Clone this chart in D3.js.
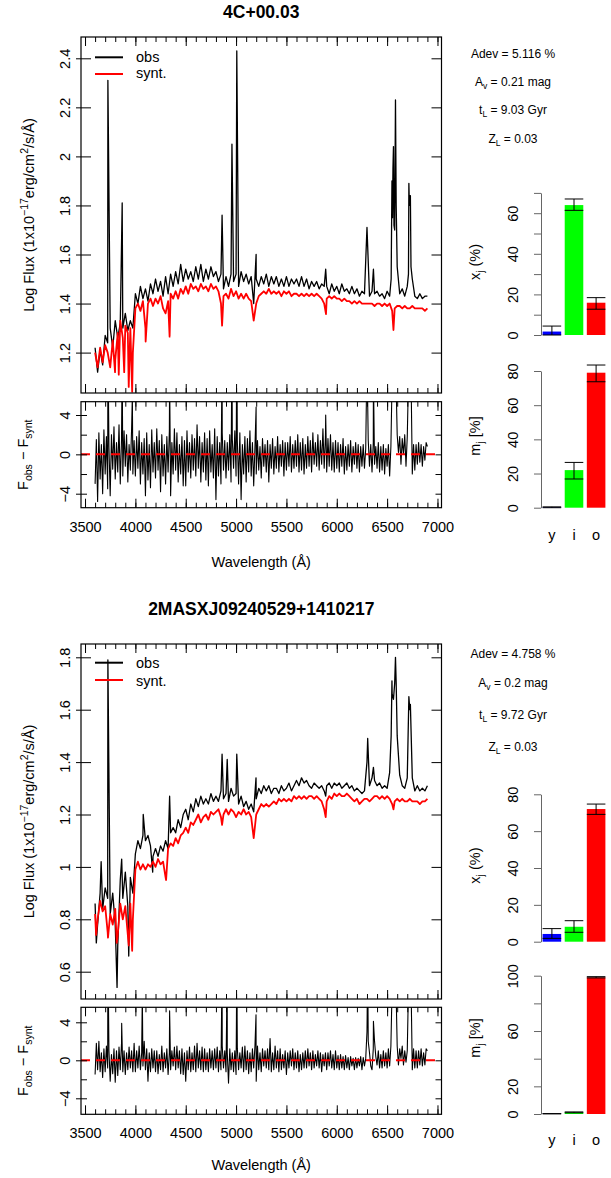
<!DOCTYPE html>
<html>
<head>
<meta charset="utf-8">
<script src="https://cdn.jsdelivr.net/npm/d3@7"></script>
<style>
  body { margin: 0; background: #fff; }
  svg { display: block; }
  text { font-family: "Liberation Sans", Arial, Helvetica, sans-serif; }
</style>
</head>
<body>
<svg id="chart" width="611" height="1178"></svg>
<script>
// ---- data ----
const waves = d3.range(3600, 6901, 25);      // sampling of the spectra (Å)
const resWaves = d3.range(3600, 6901, 12.5); // sampling of the residuals (Å)

const galaxyNames = ["4C+00.03", "2MASXJ09240529+1410217"];
const statAdev = ["5.116", "4.758"];
const statAv = ["0.21", "0.2"];
const statTL = ["9.03", "9.72"];
const statZL = ["0.03", "0.03"];

// top galaxy, log flux
const obsTop = [
  1.22, 1.12, 1.21, 1.15,  1.27, 1.24, 1.30, 1.22,  1.33, 1.26, 1.32, 1.30,
  1.36, 1.29, 1.33, 1.30,  1.44, 1.40, 1.47, 1.42,  1.46, 1.41, 1.48, 1.44,
  1.50, 1.45, 1.49, 1.43,  1.51, 1.44, 1.52, 1.47,  1.53, 1.48, 1.56, 1.49,
  1.54, 1.50, 1.53, 1.49,  1.55, 1.50, 1.56, 1.49,  1.54, 1.50, 1.55, 1.51,
  1.53, 1.49, 1.52, 1.46,  1.51, 1.47, 1.52, 1.49,  1.52, 1.47, 1.53, 1.49,
  1.52, 1.48, 1.51, 1.40,  1.50, 1.47, 1.51, 1.48,  1.52, 1.47, 1.51, 1.48,
  1.51, 1.47, 1.50, 1.47,  1.51, 1.47, 1.50, 1.48,  1.50, 1.47, 1.51, 1.47,
  1.50, 1.46, 1.49, 1.47,  1.49, 1.46, 1.48, 1.47,  1.47, 1.44, 1.48, 1.45,
  1.47, 1.44, 1.48, 1.45,  1.46, 1.44, 1.47, 1.44,  1.46, 1.43, 1.45, 1.44,
  1.44, 1.43, 1.45, 1.44,  1.45, 1.43, 1.44, 1.42,  1.45, 1.43, 1.80, 1.70,
  1.55, 1.44, 1.46, 1.43,  1.47, 1.82, 1.50, 1.43,  1.42, 1.44, 1.42, 1.43,
  1.43
];
const obsTopLines = [
  [3727, 2.31], [3869, 1.81], [4861, 1.76], [4959, 2.05], [5007, 2.43], [5199, 1.60],
  [5890, 1.54], [6300, 1.71], [6364, 1.54], [6540, 1.50], [6548, 1.90], [6553, 1.75],
  [6558, 1.95], [6563, 2.04], [6568, 1.72], [6583, 2.23], [6590, 1.80], [6712, 1.52],
  [6716, 1.89], [6721, 1.80], [6727, 1.84], [6731, 1.84], [6737, 1.55]
];
const synTop = [
  1.20, 1.14, 1.22, 1.16,  1.23, 1.20, 1.14, 1.25,  1.17, 1.28, 1.33, 1.26,
  1.31, 1.28, 1.30, 1.20,  1.38, 1.40, 1.37, 1.41,  1.30, 1.40, 1.42, 1.39,
  1.42, 1.40, 1.43, 1.38,  1.36, 1.41, 1.44, 1.42,  1.45, 1.42, 1.46, 1.44,
  1.47, 1.44, 1.48, 1.46,  1.47, 1.45, 1.48, 1.46,  1.47, 1.45, 1.48, 1.46,
  1.47, 1.45, 1.40, 1.43,  1.44, 1.42, 1.46, 1.43,  1.45, 1.42, 1.44, 1.42,
  1.44, 1.42, 1.41, 1.36,  1.40, 1.43, 1.44, 1.45,  1.44, 1.46, 1.44, 1.45,
  1.44, 1.45, 1.43, 1.45,  1.44, 1.45, 1.43, 1.44,  1.44, 1.43, 1.44, 1.43,
  1.44, 1.43, 1.44, 1.43,  1.44, 1.43, 1.42, 1.40,  1.42, 1.43, 1.42, 1.43,
  1.42, 1.42, 1.41, 1.42,  1.41, 1.41, 1.40, 1.41,  1.40, 1.41, 1.40, 1.40,
  1.40, 1.40, 1.40, 1.39,  1.40, 1.40, 1.39, 1.40,  1.39, 1.40, 1.37, 1.38,
  1.39, 1.39, 1.38, 1.39,  1.38, 1.38, 1.39, 1.38,  1.38, 1.38, 1.38, 1.37,
  1.38
];
const synTopDips = [
  [3798, 1.12], [3835, 1.11], [3889, 1.12], [3934, 1.06], [3968, 1.04], [4102, 1.245],
  [4340, 1.265], [4861, 1.31], [5175, 1.33], [5893, 1.357], [6563, 1.292]
];
const resTop = [
  -3.0, 1.5, -4.8, 2.2, -2.5, 1.0, -4.0, 2.5,
  -2.0, 1.8, -3.5, 0.8, -4.2, 2.0, -1.5, 2.8,
  -2.5, 1.2, -1.8, 3.0, -3.0, 1.5, -2.2, 2.4,
  -1.2, 2.0, -2.8, 1.0, -1.6, 2.6, -2.0, 1.4,
  -2.2, 1.8, -1.4, 2.4, -3.0, 1.2, -2.0, 1.6,
  -4.2, 2.2, -2.6, 1.0, -3.4, 2.5, -1.8, 1.2,
  -2.4, 2.6, -1.6, 1.4, -3.8, 2.0, -2.2, 1.0,
  -3.0, 1.8, -1.8, 2.4, -4.2, 1.2, -2.0, 2.6,
  -1.6, 2.2, -2.8, 1.0, -2.0, 1.8, -3.2, 1.4,
  -3.2, 2.4, -1.8, 1.2, -2.4, 2.0, -1.6, 1.6,
  -2.2, 3.0, -1.4, 1.8, -2.8, 1.2, -1.8, 2.2,
  -2.6, 1.6, -3.2, 2.4, -1.8, 1.0, -2.4, 2.6,
  -4.6, 1.8, -2.2, 1.2, -3.0, 2.2, -1.6, 1.4,
  -2.4, 1.2, -1.6, 2.0, -2.8, 1.6, -1.4, 2.4,
  -2.2, 1.4, -3.0, 2.2, -4.6, 1.0, -2.0, 1.8,
  -2.8, 1.6, -1.8, 2.4, -2.2, 1.2, -3.2, 0.8,
  -2.0, 1.4, -1.6, 0.8, -2.4, 1.6, -1.2, 1.0,
  -1.8, 1.4, -2.8, 1.0, -1.4, 1.6, -2.0, 0.8,
  -1.4, 1.8, -1.8, 1.0, -1.2, 1.4, -2.2, 1.2,
  -1.6, 1.2, -1.2, 1.8, -1.8, 1.0, -1.4, 1.4,
  -1.2, 2.0, -1.8, 1.2, -1.6, 1.6, -2.0, 1.0,
  -1.4, 1.8, -1.2, 1.4, -1.8, 2.2, -1.0, 1.2,
  -1.2, 2.0, -1.6, 1.4, -1.0, 2.6, -1.4, 1.8,
  -1.8, 1.6, -1.2, 2.0, -1.6, 1.2, -1.8, 1.4,
  -1.4, 1.2, -1.8, 1.0, -1.2, 1.6, -2.0, 0.8,
  -1.6, 1.0, -1.2, 1.4, -1.8, 0.8, -1.0, 1.2,
  -1.4, 1.0, -1.8, 0.8, -1.2, 1.0, -1.4, 0.6,
  -1.6, 1.4, -1.2, 1.0, -1.8, 1.2, -1.0, 0.8,
  -1.4, 1.2, -1.8, 0.8, -1.6, 1.0, -2.0, 0.6,
  -1.2, 1.0, -2.2, 0.8, 8.0, 8.0, 8.0, 8.0,
  2.0, 0.2, 1.8, -1.0, 1.6, 0.0, 2.0, -1.2,
  1.8, 8.0, 8.0, 8.0, -2.0, 1.0, -1.6, 1.0,
  -1.0, 1.2, -0.8, 1.0, -1.2, 0.8, -0.6, 1.2,
  0.8
];
const resTopSpikes = [
  [3727, 12], [3869, 10], [3970, 6], [4340, 8], [4861, 10], [4959, 12], [5007, 12],
  [5199, 4.8], [5890, 4.0], [6300, 10], [6364, 8]
];

// bottom galaxy, log flux
const obsBot = [
  0.86, 0.78, 0.90, 0.84,  0.92, 0.88, 0.82, 0.90,  0.78, 0.70, 0.95, 0.88,
  0.98, 0.85, 0.96, 0.90,  1.05, 1.10, 1.07, 1.12,  1.10, 1.12, 1.08, 1.04,
  1.07, 1.04, 1.08, 1.06,  1.10, 1.07, 1.13, 1.15,  1.13, 1.18, 1.15, 1.20,
  1.22, 1.18, 1.24, 1.21,  1.26, 1.23, 1.27, 1.24,  1.26, 1.24, 1.28, 1.25,
  1.27, 1.25, 1.29, 1.26,  1.28, 1.25, 1.30, 1.27,  1.28, 1.24, 1.27, 1.23,
  1.25, 1.22, 1.24, 1.20,  1.26, 1.30, 1.28, 1.31,  1.29, 1.31, 1.28, 1.30,
  1.30, 1.28, 1.31, 1.29,  1.30, 1.32, 1.29, 1.31,  1.33, 1.31, 1.34, 1.32,
  1.33, 1.31, 1.30, 1.32,  1.31, 1.30, 1.31, 1.29,  1.31, 1.32, 1.30, 1.32,
  1.31, 1.32, 1.30, 1.31,  1.32, 1.30, 1.31, 1.29,  1.30, 1.29, 1.28, 1.29,
  1.40, 1.31, 1.34, 1.33,  1.31, 1.32, 1.30, 1.31,  1.30, 1.36, 1.66, 1.70,
  1.50, 1.35, 1.31, 1.30,  1.34, 1.60, 1.34, 1.29,  1.31, 1.29, 1.30, 1.29,
  1.31
];
const obsBotLines = [
  [3612, 0.71], [3660, 1.02], [3727, 1.79], [3818, 0.54], [3864, 1.03], [3934, 0.66],
  [4078, 1.20], [4172, 0.98], [4340, 1.27], [4861, 1.43], [4912, 1.41], [5007, 1.43],
  [5175, 1.21], [5198, 1.34], [5890, 1.27], [6307, 1.49], [6364, 1.38], [6540, 1.50],
  [6548, 1.71], [6563, 1.64], [6583, 1.80], [6590, 1.70], [6716, 1.65], [6731, 1.62]
];
const synBot = [
  0.82, 0.80, 0.87, 0.83,  0.85, 0.75, 0.82, 0.78,  0.84, 0.74, 0.86, 0.80,
  0.85, 0.74, 0.86, 0.80,  0.99, 1.02, 0.99, 1.01,  0.99, 1.01, 1.00, 1.02,
  1.00, 1.03, 1.01, 1.02,  0.96, 1.07, 1.09, 1.08,  1.11, 1.09, 1.12, 1.13,
  1.15, 1.13, 1.17, 1.16,  1.18, 1.20, 1.17, 1.19,  1.20, 1.18, 1.21, 1.20,
  1.21, 1.22, 1.19, 1.20,  1.22, 1.20, 1.22, 1.21,  1.19, 1.21, 1.20, 1.22,
  1.20, 1.21, 1.19, 1.14,  1.20, 1.22, 1.24, 1.23,  1.24, 1.23, 1.24, 1.25,
  1.24, 1.26, 1.25, 1.26,  1.25, 1.26, 1.25, 1.27,  1.26, 1.27, 1.26, 1.27,
  1.26, 1.27, 1.27, 1.26,  1.27, 1.26, 1.25, 1.22,  1.25, 1.27, 1.26, 1.28,
  1.27, 1.28, 1.27, 1.27,  1.28, 1.27, 1.26, 1.25,  1.26, 1.24, 1.25, 1.26,
  1.26, 1.25, 1.26, 1.27,  1.27, 1.26, 1.27, 1.26,  1.27, 1.26, 1.24, 1.25,
  1.26, 1.25, 1.26, 1.25,  1.25, 1.26, 1.25, 1.25,  1.25, 1.24, 1.25, 1.25,
  1.26
];
const synBotDips = [
  [3610, 0.74], [3728, 0.73], [3815, 0.71], [3934, 0.70], [3968, 0.68], [4305, 0.95],
  [4861, 1.16], [5175, 1.11], [5890, 1.19], [6563, 1.22]
];
const resBot = [
  -1.5, 1.8, -1.0, 2.0, -1.2, 0.8, -1.8, 1.2,
  -1.2, 1.5, -0.8, 1.0, -2.2, 0.6, -1.4, 1.2,
  -2.3, 1.0, -1.6, 1.4, -1.0, 1.8, -1.2, 1.0,
  -1.5, 0.8, -1.0, 1.4, -0.8, 1.0, -1.2, 1.8,
  -1.2, 1.0, -0.8, 1.5, -1.0, 0.8, -0.6, 2.0,
  -1.0, 1.2, -2.2, 0.8, -1.2, 1.2, -0.8, 1.0,
  -1.2, 1.0, -1.4, 0.6, -1.0, 1.5, -1.2, 0.8,
  -0.8, 1.2, -1.5, 0.8, -1.0, 1.0, -0.6, 1.4,
  -1.0, 1.5, -0.8, 1.0, -1.4, 1.2, -1.5, 0.8,
  -2.2, 1.0, -1.0, 1.4, -1.2, 0.8, -1.0, 1.5,
  -1.2, 1.8, -0.8, 1.0, -1.0, 1.4, -1.2, 1.2,
  -1.0, 0.8, -1.2, 1.2, -0.8, 1.0, -1.0, 1.2,
  -0.8, 1.4, -1.2, 1.0, -1.0, 1.5, -0.8, 1.0,
  -1.2, 0.8, -2.4, 1.2, -1.0, 0.8, -1.2, 1.0,
  -1.5, 1.2, -1.0, 0.8, -0.8, 1.4, -1.2, 1.5,
  -1.0, 1.0, -1.4, 0.8, -1.2, 1.2, -0.8, 1.5,
  -2.2, 1.5, -1.0, 0.8, -1.2, 1.2, -0.6, 1.0,
  -0.8, 1.2, -1.0, 2.3, -1.2, 0.8, -1.0, 1.5,
  -0.8, 1.0, -1.2, 1.2, -1.0, 0.6, -0.8, 1.0,
  -1.5, 0.8, -0.8, 1.0, -0.6, 1.2, -1.0, 0.8,
  -0.8, 1.0, -1.2, 0.6, -1.0, 0.8, -0.8, 1.0,
  -0.8, 1.2, -0.6, 0.8, -1.0, 1.0, -0.8, 0.6,
  -0.6, 1.0, -0.8, 0.8, -1.2, 0.6, -0.6, 0.8,
  -1.0, 0.8, -0.6, 1.0, -0.8, 0.6, -1.0, 1.0,
  -0.8, 0.5, -1.0, 0.6, -0.8, 0.4, -1.0, 0.5,
  -0.8, 0.3, -1.0, 0.4, -0.6, 0.2, -1.0, 0.3,
  -0.8, 0.2, -0.6, 0.4, -1.0, 0.3, -0.6, 0.2,
  3.0, 2.0, 0.8, -0.6, -1.0, 1.2, 2.0, 0.4,
  -0.5, 1.0, -0.8, 0.6, -0.8, 1.0, -0.6, 0.8,
  -0.8, 1.2, -0.6, 1.5, 8.0, 8.0, 8.0, 8.0,
  1.5, -0.5, 1.2, 0.2, 1.5, -0.5, 1.0, -0.2,
  1.0, 8.0, 8.0, 8.0, -1.0, 1.2, -0.8, 1.0,
  -0.8, 1.0, -0.5, 1.2, -0.6, 0.8, -0.5, 1.2,
  1.0
];
const resBotSpikes = [
  [3727, 12], [3864, 3.9], [4069, 7], [4340, 5.2], [4861, 10], [4912, 10], [5007, 10],
  [5198, 4.8], [6307, 10], [6364, 4.1]
];

// population vectors (young / intermediate / old)
const popLabels = ["y", "i", "o"];
const popColors = ["#0000FF", "#00FF00", "#FF0000"];
const xjTop = [1.7, 64.0, 15.9], xjTopLo = [0, 61.4, 12.7], xjTopHi = [4.4, 67.0, 18.4];
const mjTop = [0.3, 22.0, 79.0], mjTopLo = [0, 16.8, 73.7], mjTopHi = [0.5, 26.5, 83.5];
const xjBot = [4.2, 8.1, 72.0], xjBotLo = [1.8, 5.1, 69.1], xjBotHi = [7.1, 11.4, 74.7];
const mjBot = [0.2, 1.2, 98.8], mjBotLo = [0.1, 0.9, 98.4], mjBotHi = [0.3, 1.5, 99.3];

// tick labels
const xMajor = [3500, 4000, 4500, 5000, 5500, 6000, 6500, 7000];
const yTicksTop = [1.2, 1.4, 1.6, 1.8, 2.0, 2.2, 2.4];
const yTicksBot = [0.6, 0.8, 1.0, 1.2, 1.4, 1.6, 1.8];
const resLabels = [-4, 0, 4];
const resMinor = [-4, -2, 0, 2, 4];

// ---- page layout ----
const svg = d3.select("#chart");
const defs = svg.append("defs");
const BOX_L = 81, BOX_R = 441.5;
const FS = 14.5;
const fmt = d3.format("~g");

const panels = [
  {
    title: 18.3, box: [37, 393], yRef: [1.2, 352.6, 2.4, 58.3], yTicks: yTicksTop,
    res: [401.7, 507.7], resRef: [415, 493.7], xLab: 531.7, wLab: 567,
    leg: [57.3, 61.7, 74, 78.3], stats: [58.3, 86, 114.3, 143.3],
    obs: obsTop, obsLines: obsTopLines, syn: synTop, synDips: synTopDips,
    resid: resTop, residSpikes: resTopSpikes,
    xj: { v: xjTop, lo: xjTopLo, hi: xjTopHi, zero: 335, top: 192.9, max: 70,
          ticks: [0, 10, 20, 30, 40, 50, 60, 70], labels: [0, 20, 40, 60], labY: 262 },
    mj: { v: mjTop, lo: mjTopLo, hi: mjTopHi, zero: 507.7, top: 371, max: 80,
          ticks: [0, 20, 40, 60, 80], labels: [0, 20, 40, 60, 80], labY: 436 },
    popY: 540
  },
  {
    title: 615, box: [644, 999], yRef: [0.6, 971.7, 1.8, 657.3], yTicks: yTicksBot,
    res: [1007.3, 1114.3], resRef: [1022.3, 1098.3], xLab: 1138, wLab: 1170,
    leg: [662.7, 668.3, 680, 686], stats: [658.3, 687.3, 719.3, 750.7],
    obs: obsBot, obsLines: obsBotLines, syn: synBot, synDips: synBotDips,
    resid: resBot, residSpikes: resBotSpikes,
    xj: { v: xjBot, lo: xjBotLo, hi: xjBotHi, zero: 941.7, top: 794.3, max: 80,
          ticks: [0, 20, 40, 60, 80], labels: [0, 20, 40, 60, 80], labY: 865.6 },
    mj: { v: mjBot, lo: mjBotLo, hi: mjBotHi, zero: 1114, top: 975.7, max: 100,
          ticks: [0, 20, 40, 60, 80, 100], labels: [0, 20, 60, 100], labY: 1038 },
    popY: 1145
  }
];

function merge(grid, values, extra) {
  const m = new Map(grid.map((w, i) => [w, [w, values[i]]]));
  extra.forEach(e => m.set(e[0], e));
  return Array.from(m.values()).sort((a, b) => a[0] - b[0]);
}

// text made of pieces: [string, fontSize, dy]
function richText(sel, parts) {
  parts.forEach(p => {
    sel.append("tspan").attr("font-size", p[1]).attr("dy", p[2]).text(p[0]);
  });
  return sel;
}

function tickGroup(g, axis, tx, ty) {
  const a = g.append("g").attr("transform", `translate(${tx},${ty})`).call(axis);
  a.select(".domain").remove();
  a.attr("font-size", FS).attr("font-family", null);
  return a;
}

function rotLabels(a, off) {
  a.selectAll("text")
    .attr("transform", "rotate(-90)")
    .attr("x", 0).attr("y", off).attr("dy", null)
    .attr("text-anchor", "middle").attr("fill", "#000");
}

const x = d3.scaleLinear().domain([3460, 7040]).range([BOX_L, BOX_R]);
const xMinor = d3.range(3500, 7001, 100);

function drawSpectrumPanel(i) {
  const P = panels[i];
  const g = svg.append("g");
  const y = d3.scaleLinear().domain([P.yRef[0], P.yRef[2]]).range([P.yRef[1], P.yRef[3]]);
  const yr = d3.scaleLinear().domain([4, -4]).range(P.resRef);

  defs.append("clipPath").attr("id", "clipM" + i).append("rect")
    .attr("x", BOX_L).attr("y", P.box[0]).attr("width", BOX_R - BOX_L).attr("height", P.box[1] - P.box[0]);
  defs.append("clipPath").attr("id", "clipR" + i).append("rect")
    .attr("x", BOX_L).attr("y", P.res[0]).attr("width", BOX_R - BOX_L).attr("height", P.res[1] - P.res[0]);

  // title
  g.append("text").attr("x", (BOX_L + BOX_R) / 2).attr("y", P.title)
    .attr("text-anchor", "middle").attr("font-size", 17.5).attr("font-weight", "bold")
    .text(galaxyNames[i]);

  // spectra
  const line = d3.line().defined(d => d[1] != null).x(d => x(d[0])).y(d => y(d[1]));
  const main = g.append("g").attr("clip-path", `url(#clipM${i})`);
  main.append("path").datum(merge(waves, P.obs, P.obsLines)).attr("d", line)
    .attr("fill", "none").attr("stroke", "#000").attr("stroke-width", 1.3).attr("stroke-linejoin", "round");
  main.append("path").datum(merge(waves, P.syn, P.synDips)).attr("d", line)
    .attr("fill", "none").attr("stroke", "#FF0000").attr("stroke-width", 1.8).attr("stroke-linejoin", "round");

  // legend
  g.append("line").attr("x1", 95).attr("x2", 123).attr("y1", P.leg[0]).attr("y2", P.leg[0])
    .attr("stroke", "#000").attr("stroke-width", 2);
  g.append("text").attr("x", 136).attr("y", P.leg[1]).attr("font-size", FS).text("obs");
  g.append("line").attr("x1", 95).attr("x2", 123).attr("y1", P.leg[2]).attr("y2", P.leg[2])
    .attr("stroke", "#FF0000").attr("stroke-width", 2);
  g.append("text").attr("x", 136).attr("y", P.leg[3]).attr("font-size", FS).text("synt.");

  // residuals
  const rline = d3.line().defined(d => d[1] != null).x(d => x(d[0])).y(d => yr(d[1]));
  const resG = g.append("g").attr("clip-path", `url(#clipR${i})`);
  resG.append("path").datum(merge(resWaves, P.resid, P.residSpikes)).attr("d", rline)
    .attr("fill", "none").attr("stroke", "#000").attr("stroke-width", 1.1).attr("stroke-linejoin", "round");
  resG.append("line").attr("x1", BOX_L).attr("x2", BOX_R).attr("y1", yr(0)).attr("y2", yr(0))
    .attr("stroke", "#FF0000").attr("stroke-width", 2).attr("stroke-dasharray", "9,6");

  // x ticks, inward on both boxes
  [P.box, P.res].forEach(b => {
    tickGroup(g, d3.axisBottom(x).tickValues(xMinor).tickSizeInner(5).tickSizeOuter(0).tickFormat(""), 0, b[0]);
    tickGroup(g, d3.axisBottom(x).tickValues(xMajor).tickSizeInner(9).tickSizeOuter(0).tickFormat(""), 0, b[0]);
    tickGroup(g, d3.axisTop(x).tickValues(xMinor).tickSizeInner(5).tickSizeOuter(0).tickFormat(""), 0, b[1]);
    tickGroup(g, d3.axisTop(x).tickValues(xMajor).tickSizeInner(9).tickSizeOuter(0).tickFormat(""), 0, b[1]);
  });
  const xl = tickGroup(g, d3.axisBottom(x).tickValues(xMajor).tickSize(0).tickFormat(d3.format("d")), 0, P.res[1]);
  xl.selectAll("text").attr("y", P.xLab - P.res[1]).attr("dy", null).attr("fill", "#000");

  // main y axis
  const yl = tickGroup(g, d3.axisLeft(y).tickValues(P.yTicks).tickSizeInner(5).tickSizeOuter(0).tickFormat(fmt), BOX_L, 0);
  rotLabels(yl, -11);
  tickGroup(g, d3.axisRight(y).tickValues(P.yTicks).tickSizeInner(10).tickSizeOuter(0).tickFormat(""), BOX_L, 0);
  tickGroup(g, d3.axisLeft(y).tickValues(P.yTicks).tickSizeInner(10).tickSizeOuter(0).tickFormat(""), BOX_R, 0);

  // residual y axis
  const rl = tickGroup(g, d3.axisLeft(yr).tickValues(resLabels).tickSizeInner(5).tickSizeOuter(0).tickFormat(fmt), BOX_L, 0);
  rotLabels(rl, -11);
  tickGroup(g, d3.axisRight(yr).tickValues(resMinor).tickSizeInner(6).tickSizeOuter(0).tickFormat(""), BOX_L, 0);
  tickGroup(g, d3.axisLeft(yr).tickValues(resMinor).tickSizeInner(6).tickSizeOuter(0).tickFormat(""), BOX_R, 0);

  // boxes
  [P.box, P.res].forEach(b => {
    g.append("rect").attr("x", BOX_L).attr("y", b[0]).attr("width", BOX_R - BOX_L).attr("height", b[1] - b[0])
      .attr("fill", "none").attr("stroke", "#000").attr("stroke-width", 1.2);
  });

  // axis titles
  richText(g.append("text").attr("font-size", FS).attr("text-anchor", "middle")
    .attr("transform", `translate(34,${(P.box[0] + P.box[1]) / 2}) rotate(-90)`), [
      ["Log Flux (1x10", FS, 0], ["\u221217", 10.5, -6], ["erg/cm", FS, 6],
      ["2", 10.5, -6], ["/s/\u00C5)", FS, 6]
    ]);
  richText(g.append("text").attr("font-size", FS).attr("text-anchor", "middle")
    .attr("transform", `translate(27.5,${(P.res[0] + P.res[1]) / 2}) rotate(-90)`), [
      ["F", FS, 0], ["obs", 10.5, 4], [" \u2212 F", FS, -4], ["synt", 10.5, 4]
    ]);
  g.append("text").attr("x", (BOX_L + BOX_R) / 2).attr("y", P.wLab).attr("text-anchor", "middle")
    .attr("font-size", FS).text("Wavelength (\u00C5)");

  // fit statistics
  const sx = 513, sf = 12;
  g.append("text").attr("x", sx).attr("y", P.stats[0]).attr("text-anchor", "middle").attr("font-size", sf)
    .text(`Adev = ${statAdev[i]} %`);
  richText(g.append("text").attr("x", sx).attr("y", P.stats[1]).attr("text-anchor", "middle").attr("font-size", sf),
    [["A", sf, 0], ["v", 8.5, 3], [` = ${statAv[i]} mag`, sf, -3]]);
  richText(g.append("text").attr("x", sx).attr("y", P.stats[2]).attr("text-anchor", "middle").attr("font-size", sf),
    [["t", sf, 0], ["L", 8.5, 3], [` = ${statTL[i]} Gyr`, sf, -3]]);
  richText(g.append("text").attr("x", sx).attr("y", P.stats[3]).attr("text-anchor", "middle").attr("font-size", sf),
    [["Z", sf, 0], ["L", 8.5, 3], [` = ${statZL[i]}`, sf, -3]]);

  drawBars(g, P.xj, [["x", FS, 0], ["j", 10.5, 4], [" (%)", FS, -4]]);
  drawBars(g, P.mj, [["m", FS, 0], ["j", 10.5, 4], [" [%]", FS, -4]]);

  const band = popBand();
  g.selectAll(null).data(popLabels).join("text")
    .attr("x", d => band(d) + band.bandwidth() / 2).attr("y", P.popY)
    .attr("text-anchor", "middle").attr("font-size", FS).text(d => d);
}

function popBand() {
  return d3.scaleBand().domain(popLabels).range([541.5, 606.5]).paddingInner(0.16).paddingOuter(0.05);
}

function drawBars(g, B, label) {
  const band = popBand();
  const yb = d3.scaleLinear().domain([0, B.max]).range([B.zero, B.top]);
  const bg = g.append("g");
  bg.selectAll("rect").data(B.v).join("rect")
    .attr("x", (d, k) => band(popLabels[k]))
    .attr("width", band.bandwidth())
    .attr("y", d => yb(d))
    .attr("height", d => yb(0) - yb(d))
    .attr("fill", (d, k) => popColors[k]);
  // error bars
  const eb = bg.selectAll("g.err").data(B.v).join("g").attr("class", "err");
  eb.append("line")
    .attr("x1", (d, k) => band(popLabels[k]) + band.bandwidth() / 2)
    .attr("x2", (d, k) => band(popLabels[k]) + band.bandwidth() / 2)
    .attr("y1", (d, k) => yb(B.lo[k])).attr("y2", (d, k) => yb(B.hi[k]))
    .attr("stroke", "#000").attr("stroke-width", 1);
  ["lo", "hi"].forEach(key => {
    eb.append("line")
      .attr("x1", (d, k) => band(popLabels[k]))
      .attr("x2", (d, k) => band(popLabels[k]) + band.bandwidth())
      .attr("y1", (d, k) => yb(B[key][k])).attr("y2", (d, k) => yb(B[key][k]))
      .attr("stroke", "#000").attr("stroke-width", 1);
  });
  // axis
  const ax = g.append("g").attr("transform", "translate(541,0)")
    .call(d3.axisLeft(yb).tickValues(B.ticks).tickSizeInner(7).tickSizeOuter(0)
      .tickFormat(d => B.labels.includes(d) ? d : ""));
  ax.attr("font-size", FS).attr("font-family", null);
  ax.select(".domain").attr("stroke", "#666");
  ax.selectAll(".tick line").attr("stroke", "#666");
  rotLabels(ax, -23.5);
  richText(g.append("text").attr("font-size", FS).attr("text-anchor", "middle")
    .attr("transform", `translate(480,${B.labY}) rotate(-90)`), label);
}

drawSpectrumPanel(0);
drawSpectrumPanel(1);
</script>
</body>
</html>
